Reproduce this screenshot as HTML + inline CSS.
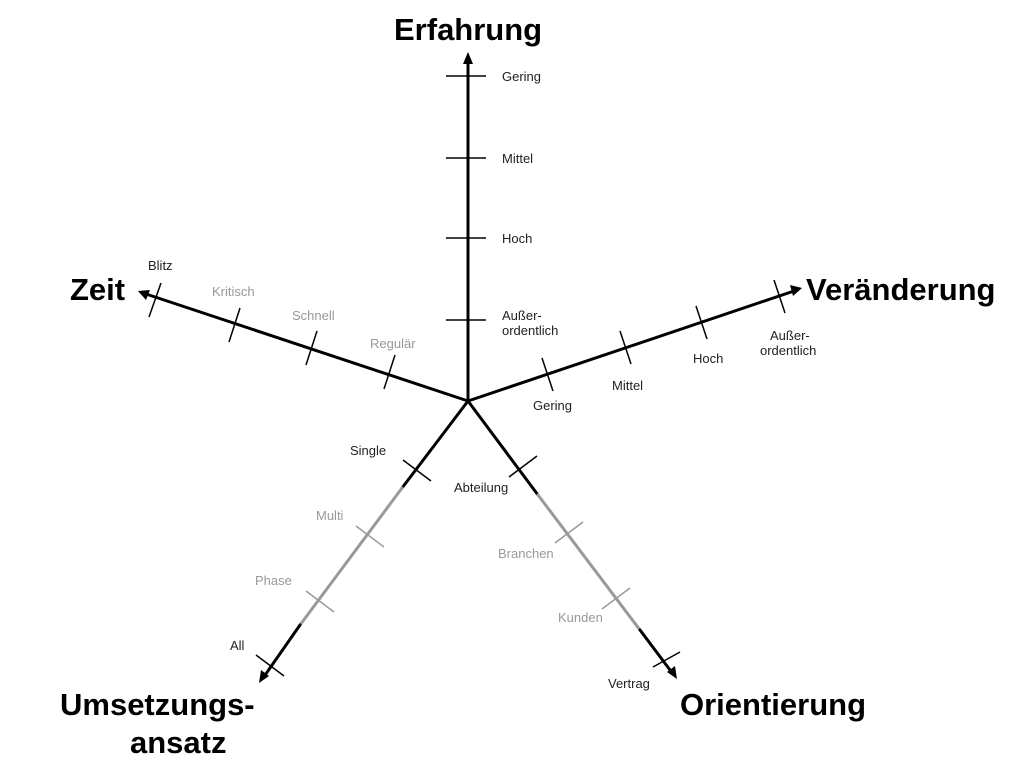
<!DOCTYPE html>
<html><head><meta charset="utf-8"><style>
html,body{margin:0;padding:0;background:#fff;width:1024px;height:773px;overflow:hidden}
svg text{font-family:"Liberation Sans",Arial,sans-serif}
.t{font-size:13px;fill:#222}
.g{font-size:13px;fill:#999}
.h{font-size:31px;font-weight:bold;fill:#000}
</style></head><body>
<svg width="1024" height="773" viewBox="0 0 1024 773" xmlns="http://www.w3.org/2000/svg">
<g stroke="#000" stroke-width="3" fill="none" stroke-linecap="round">
<line x1="468" y1="401" x2="468" y2="60"/>
<line x1="468" y1="401" x2="143" y2="293"/>
<line x1="468" y1="401" x2="797" y2="290"/>
<line x1="468" y1="401" x2="402" y2="488"/>
<line x1="402" y1="488" x2="300" y2="625" stroke="#999"/>
<line x1="300" y1="625" x2="263" y2="678"/>
<line x1="468" y1="401" x2="538" y2="495"/>
<line x1="538" y1="495" x2="640" y2="630" stroke="#999"/>
<line x1="640" y1="630" x2="673" y2="674"/>
</g>
<g fill="#000">
<polygon points="468,52 463,64 473,64"/>
<polygon points="138,291 150,290 146,300"/>
<polygon points="802,288 790,285 793,296"/>
<polygon points="259,683 261,670 269,676"/>
<polygon points="677,679 667,672 675,666"/>
</g>
<g stroke="#000" stroke-width="1.5">
<line x1="446" y1="76" x2="486" y2="76"/>
<line x1="446" y1="158" x2="486" y2="158"/>
<line x1="446" y1="238" x2="486" y2="238"/>
<line x1="446" y1="320" x2="486" y2="320"/>
<line x1="161" y1="283" x2="149" y2="317"/>
<line x1="240" y1="308" x2="229" y2="342"/>
<line x1="317" y1="331" x2="306" y2="365"/>
<line x1="395" y1="355" x2="384" y2="389"/>
<line x1="542" y1="358" x2="553" y2="391"/>
<line x1="620" y1="331" x2="631" y2="364"/>
<line x1="696" y1="306" x2="707" y2="339"/>
<line x1="774" y1="280" x2="785" y2="313"/>
<line x1="403" y1="460" x2="431" y2="481"/>
<line x1="356" y1="526" x2="384" y2="547" stroke="#999"/>
<line x1="306" y1="591" x2="334" y2="612" stroke="#999"/>
<line x1="256" y1="655" x2="284" y2="676"/>
<line x1="509" y1="477" x2="537" y2="456"/>
<line x1="555" y1="543" x2="583" y2="522" stroke="#999"/>
<line x1="602" y1="609" x2="630" y2="588" stroke="#999"/>
<line x1="653" y1="667" x2="680" y2="652"/>
</g>
<text class="h" x="394" y="40">Erfahrung</text>
<text class="h" x="70" y="300">Zeit</text>
<text class="h" x="806" y="300">Veränderung</text>
<text class="h" x="60" y="715">Umsetzungs-</text>
<text class="h" x="130" y="753">ansatz</text>
<text class="h" x="680" y="715">Orientierung</text>
<text class="t" x="502" y="81">Gering</text>
<text class="t" x="502" y="163">Mittel</text>
<text class="t" x="502" y="243">Hoch</text>
<text class="t" x="502" y="320">Außer-</text>
<text class="t" x="502" y="335">ordentlich</text>
<text class="t" x="148" y="270">Blitz</text>
<text class="g" x="212" y="296">Kritisch</text>
<text class="g" x="292" y="320">Schnell</text>
<text class="g" x="370" y="348">Regulär</text>
<text class="t" x="533" y="410">Gering</text>
<text class="t" x="612" y="390">Mittel</text>
<text class="t" x="693" y="363">Hoch</text>
<text class="t" x="770" y="340">Außer-</text>
<text class="t" x="760" y="355">ordentlich</text>
<text class="t" x="350" y="455">Single</text>
<text class="g" x="316" y="520">Multi</text>
<text class="g" x="255" y="585">Phase</text>
<text class="t" x="230" y="650">All</text>
<text class="t" x="454" y="492">Abteilung</text>
<text class="g" x="498" y="558">Branchen</text>
<text class="g" x="558" y="622">Kunden</text>
<text class="t" x="608" y="688">Vertrag</text>
</svg>
</body></html>
